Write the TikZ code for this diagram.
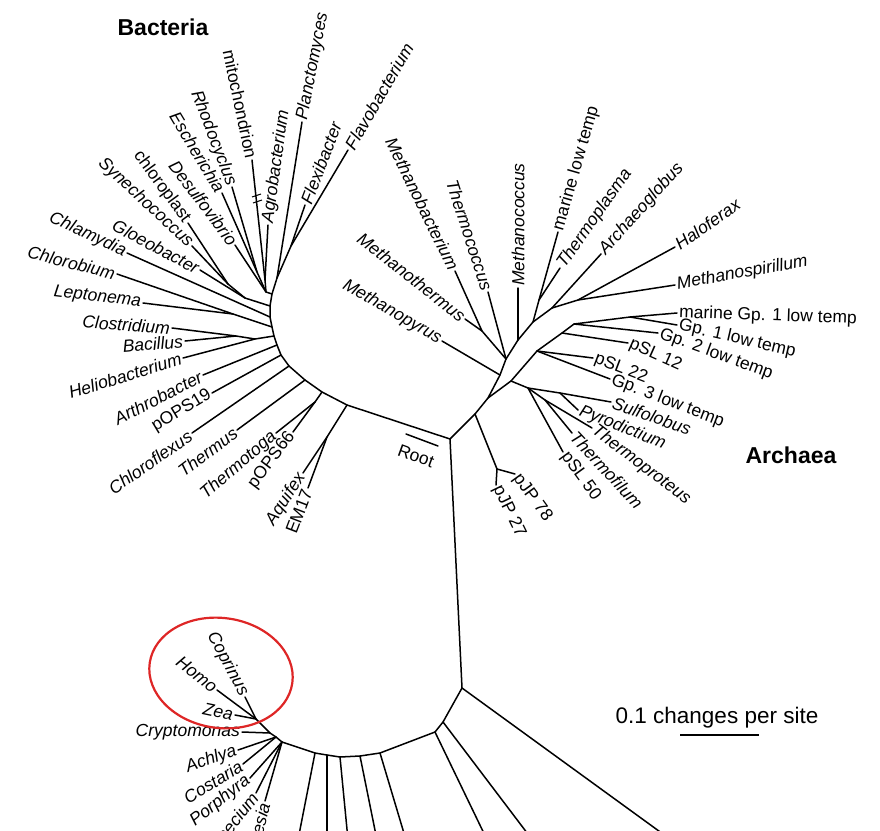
\documentclass[tikz,border=0pt]{standalone}
\usepackage{fontspec}
\setmainfont{Liberation Sans}
\definecolor{circred}{RGB}{222,38,38}
\newcommand\lblsz{\fontsize{17.5}{20}\selectfont}
\tikzset{
  br/.style={line width=1.5pt, line cap=round, line join=round, black},
  lbl/.style={inner sep=2pt, font=\lblsz\itshape},
  lblu/.style={inner sep=2pt, font=\lblsz},
  toleft/.style={anchor=east, rotate=#1},
  toright/.style={anchor=west, rotate=#1},
  bigtitle/.style={font=\fontsize{23}{26}\selectfont\bfseries, inner sep=0pt},
}
\begin{document}
\begin{tikzpicture}[x=1pt,y=-1pt]
\useasboundingbox (0,0) rectangle (880,830);
\clip (0,0) rectangle (880,830);
% ---------- main junction and root ----------
\coordinate (R) at (450,439);
\coordinate (rb1) at (406,434);
\coordinate (rb2) at (438,446);
% ---------- Bacteria backbone ----------
\coordinate (b0) at (347,405);
\coordinate (b1) at (322,392);
\coordinate (b2) at (305,380);
\coordinate (b3) at (289,366);
\coordinate (b4) at (281,355);
\coordinate (b5) at (277,345);
\coordinate (b6) at (274,336);
\coordinate (b7) at (272,327);
\coordinate (b8) at (270,317);
\coordinate (b9) at (270,306);
\coordinate (b10) at (272,294);
\coordinate (b11) at (277,278);
% bacterial nodes and leaves
\coordinate (aq) at (327,437);
\coordinate (lAquifex) at (303,473);
\coordinate (lEM) at (308,488);
\coordinate (tp) at (315,402);
\coordinate (lThermotoga) at (276,433);
\coordinate (lpOPS66) at (293,432);
\coordinate (lThermus) at (237,430);
\coordinate (lChloroflexus) at (192,433);
\coordinate (lpOPS19) at (212,393);
\coordinate (lArthrobacter) at (203,375);
\coordinate (hb) at (255,339);
\coordinate (lHelio) at (183,358);
\coordinate (bc) at (236,336);
\coordinate (lBacillus) at (185,341);
\coordinate (lClostridium) at (172,328);
\coordinate (lc) at (233,314);
\coordinate (lChlorobium) at (117,274);
\coordinate (lLeptonema) at (143,303);
\coordinate (lChlamydia) at (127,253);
\coordinate (cy) at (245,298);
\coordinate (cy2) at (228,284);
\coordinate (lChloroplast) at (188,223);
\coordinate (lSynecho) at (192,246);
\coordinate (lGloeo) at (200,270);
\coordinate (pr) at (266,292);
\coordinate (pr1) at (257,272);
\coordinate (pr2) at (265,280);
\coordinate (lEscherichia) at (222,193);
\coordinate (lRhodocyclus) at (232,187);
\coordinate (lMito) at (252,160);
\coordinate (lAgro) at (268,225);
\coordinate (lDesulfo) at (235,245);
\coordinate (lPlancto) at (302,122);
\coordinate (ff) at (291,246);
\coordinate (lFlavo) at (348,150);
\coordinate (lFlexi) at (305,205);
% ---------- Archaea ----------
\coordinate (a1) at (475,414);
\coordinate (a2) at (488,398);
\coordinate (e1) at (500,375);
\coordinate (e2) at (506,359);
\coordinate (e3) at (518,340);
\coordinate (e4) at (533,322);
\coordinate (e5) at (552,308);
\coordinate (e6) at (578,300);
\coordinate (lMethanopyrus) at (442,341);
\coordinate (mb) at (482,331);
\coordinate (lMethanobacterium) at (455,271);
\coordinate (lMethanothermus) at (465,319);
\coordinate (lThermococcus) at (488,292);
\coordinate (lMethanococcus) at (518,288);
\coordinate (ml) at (539,300);
\coordinate (lMarine) at (558,232);
\coordinate (lThermoplasma) at (560,268);
\coordinate (lArchaeoglobus) at (601,254);
\coordinate (lHaloferax) at (675,247);
\coordinate (lMethanospirillum) at (675,285);
\coordinate (c1) at (511,381);
\coordinate (c2) at (537,351);
\coordinate (c3) at (562,333);
\coordinate (c4) at (574,324);
\coordinate (g1) at (630,317);
\coordinate (lMarineGp1) at (677,313);
\coordinate (lGp1) at (677,325);
\coordinate (lGp2) at (658,333);
\coordinate (lpSL12) at (628,343);
\coordinate (lpSL22) at (593,358);
\coordinate (lGp3) at (610,379);
\coordinate (s) at (528,388);
\coordinate (sp) at (560,393);
\coordinate (lSulfolobus) at (611,402);
\coordinate (lPyrodictium) at (578,410);
\coordinate (tt) at (545,400);
\coordinate (lThermoproteus) at (592,428);
\coordinate (lThermofilum) at (572,433);
\coordinate (lpSL50) at (563,452);
\coordinate (pj) at (497,469);
\coordinate (lpJP78) at (515,474);
\coordinate (lpJP27) at (496,485);
% ---------- Eukarya ----------
\coordinate (e0) at (462,688);
\coordinate (k1) at (443,722);
\coordinate (k2) at (435,732);
\coordinate (k3) at (380,753);
\coordinate (k4) at (360,756);
\coordinate (k5) at (340,757);
\coordinate (k6) at (327,755);
\coordinate (k7) at (315,753);
\coordinate (k8) at (282,742);
\coordinate (ea) at (276,737);
\coordinate (k9) at (270,733);
\coordinate (k10) at (256,719);
\coordinate (d1) at (540,850);
\coordinate (d2) at (492,850);
\coordinate (d3) at (409,850);
\coordinate (d4) at (379,850);
\coordinate (d5) at (349,850);
\coordinate (d6) at (327,850);
\coordinate (d7) at (296,850);
\coordinate (dl) at (685,850);
\coordinate (lHomo) at (217,690);
\coordinate (lCoprinus) at (245,697);
\coordinate (lZea) at (235,715);
\coordinate (lCrypto) at (242,732);
\coordinate (lAchlya) at (238,750);
\coordinate (lCostaria) at (243,764);
\coordinate (lPorphyra) at (250,778);
\coordinate (lParamecium) at (256,793);
\coordinate (lBabesia) at (265,801);

% ---------- branches: Bacteria ----------
\draw[br] (R) -- (b0) -- (b1) -- (b2) -- (b3) -- (b4) -- (b5) -- (b6) -- (b7) -- (b8) -- (b9) -- (b10) -- (b11);
\draw[br] (b0) -- (aq) -- (lAquifex);
\draw[br] (aq) -- (lEM);
\draw[br] (b1) -- (tp) -- (lThermotoga);
\draw[br] (tp) -- (lpOPS66);
\draw[br] (b2) -- (lThermus);
\draw[br] (b3) -- (lChloroflexus);
\draw[br] (b4) -- (lpOPS19);
\draw[br] (b5) -- (lArthrobacter);
\draw[br] (b6) -- (hb) -- (lHelio);
\draw[br] (hb) -- (bc) -- (lBacillus);
\draw[br] (bc) -- (lClostridium);
\draw[br] (b7) -- (lc) -- (lChlorobium);
\draw[br] (lc) -- (lLeptonema);
\draw[br] (b8) -- (lChlamydia);
\draw[br] (b9) -- (cy) -- (cy2) -- (lChloroplast);
\draw[br] (cy2) -- (lSynecho);
\draw[br] (cy) -- (lGloeo);
\draw[br] (b10) -- (pr) -- (pr1) -- (lEscherichia);
\draw[br] (pr1) -- (lRhodocyclus);
\draw[br] (pr) -- (pr2) -- (lMito);
\draw[br] (pr2) -- (lAgro);
\draw[br] (pr) -- (lDesulfo);
\draw[br] (b11) -- (lPlancto);
\draw[br] (b11) -- (ff) -- (lFlavo);
\draw[br] (ff) -- (lFlexi);
% break mark on mitochondrion
\draw[line width=1pt] (252,197) -- (261,194);
\draw[line width=1pt] (253,203) -- (262,200);
% ---------- branches: Archaea ----------
\draw[br] (R) -- (a1) -- (a2) -- (e1) -- (e2) -- (e3) -- (e4) -- (e5) -- (e6) -- (lMethanospirillum);
\draw[br] (e6) -- (lHaloferax);
\draw[br] (e5) -- (lArchaeoglobus);
\draw[br] (e4) -- (ml) -- (lMarine);
\draw[br] (ml) -- (lThermoplasma);
\draw[br] (e3) -- (lMethanococcus);
\draw[br] (e2) -- (lThermococcus);
\draw[br] (e2) -- (mb) -- (lMethanobacterium);
\draw[br] (mb) -- (lMethanothermus);
\draw[br] (e1) -- (lMethanopyrus);
\draw[br] (a2) -- (c1) -- (c2) -- (c3) -- (c4) -- (g1) -- (lMarineGp1);
\draw[br] (g1) -- (lGp1);
\draw[br] (c4) -- (lGp2);
\draw[br] (c3) -- (lpSL12);
\draw[br] (c2) -- (lpSL22);
\draw[br] (c2) -- (lGp3);
\draw[br] (c1) -- (s) -- (sp) -- (lSulfolobus);
\draw[br] (sp) -- (lPyrodictium);
\draw[br] (s) -- (tt) -- (lThermoproteus);
\draw[br] (tt) -- (lThermofilum);
\draw[br] (s) -- (lpSL50);
\draw[br] (a1) -- (pj) -- (lpJP78);
\draw[br] (pj) -- (lpJP27);
% ---------- branches: Eukarya ----------
\draw[br] (R) -- (e0) -- (dl);
\draw[br] (e0) -- (k1) -- (k2) -- (k3) -- (k4) -- (k5) -- (k6) -- (k7) -- (k8) -- (ea) -- (k9) -- (k10) -- (lHomo);
\draw[br] (k10) -- (lCoprinus);
\draw[br] (k10) -- (lZea);
\draw[br] (k9) -- (lCrypto);
\draw[br] (ea) -- (lAchlya);
\draw[br] (ea) -- (lCostaria);
\draw[br] (k8) -- (lPorphyra);
\draw[br] (k8) -- (lParamecium);
\draw[br] (k8) -- (lBabesia);
\draw[br] (k1) -- (d1);
\draw[br] (k2) -- (d2);
\draw[br] (k3) -- (d3);
\draw[br] (k4) -- (d4);
\draw[br] (k5) -- (d5);
\draw[br] (k6) -- (d6);
\draw[br] (k7) -- (d7);
% root bar
\draw[br] (rb1) -- (rb2);
\node[lblu, rotate=-20] (tRoot) at (416,456) {Root};

% ---------- labels: Bacteria ----------
\node[lbl, toleft=-25] (tChlamydia) at (lChlamydia) {Chlamydia};
\node[lbl, toleft=-14] (tChlorobium) at (lChlorobium) {Chlorobium};
\node[lbl, toleft=-7] (tLeptonema) at (lLeptonema) {Leptonema};
\node[lbl, toleft=-4] (tClostridium) at (lClostridium) {Clostridium};
\node[lbl, toleft=5] (tBacillus) at (lBacillus) {Bacillus};
\node[lbl, toleft=17] (tHelio) at (lHelio) {Heliobacterium};
\node[lbl, toleft=27] (tArthro) at (lArthrobacter) {Arthrobacter};
\node[lblu, toleft=31] (tpOPS19) at (lpOPS19) {pOPS19};
\node[lbl, toleft=35] (tChloroflexus) at (lChloroflexus) {Chloroflexus};
\node[lbl, toleft=37] (tThermus) at (lThermus) {Thermus};
\node[lbl, toleft=41] (tThermotoga) at (lThermotoga) {Thermotoga};
\node[lblu, toleft=53] (tpOPS66) at (lpOPS66) {pOPS66};
\node[lbl, toleft=57] (tAquifex) at (lAquifex) {Aquifex};
\node[lblu, toleft=69] (tEM) at (lEM) {EM17};
\node[lbl, toleft=-28] (tGloeo) at (lGloeo) {Gloeobacter};
\node[lbl, toleft=-43] (tSynecho) at (lSynecho) {Synechococcus};
\node[lblu, toleft=-54] (tChloroplast) at (lChloroplast) {chloroplast};
\node[lbl, toleft=-53] (tDesulfo) at (lDesulfo) {Desulfovibrio};
\node[lbl, toleft=-59] (tEscherichia) at (lEscherichia) {Escherichia};
\node[lbl, toleft=-69] (tRhodocyclus) at (lRhodocyclus) {Rhodocyclus};
\node[lblu, toleft=-78] (tMito) at (lMito) {mitochondrion};
\node[lbl, toright=82] (tAgro) at (lAgro) {Agrobacterium};
\node[lbl, toright=79] (tPlancto) at (lPlancto) {Planctomyces};
\node[lbl, toright=69] (tFlexi) at (lFlexi) {Flexibacter};
\node[lbl, toright=60] (tFlavo) at (lFlavo) {Flavobacterium};
% ---------- labels: Archaea ----------
\node[lbl, toleft=-30] (tMethanopyrus) at (lMethanopyrus) {Methanopyrus};
\node[lbl, toleft=-38] (tMethanothermus) at (lMethanothermus) {Methanothermus};
\node[lbl, toleft=-64] (tMethanobacterium) at (lMethanobacterium) {Methanobacterium};
\node[lbl, toleft=-72] (tThermococcus) at (lThermococcus) {Thermococcus};
\node[lbl, toright=90] (tMethanococcus) at (lMethanococcus) {Methanococcus};
\node[lblu, toright=74] (tMarine) at (lMarine) {marine low temp};
\node[lbl, toright=55] (tThermoplasma) at (lThermoplasma) {Thermoplasma};
\node[lbl, toright=48] (tArchaeoglobus) at (lArchaeoglobus) {Archaeoglobus};
\node[lbl, toright=35] (tHaloferax) at (lHaloferax) {Haloferax};
\node[lbl, toright=10] (tMethanospirillum) at (lMethanospirillum) {Methanospirillum};
\node[lblu, toright=-2] (tMarineGp1) at (lMarineGp1) {marine Gp. 1 low temp};
\node[lblu, toright=-13] (tGp1) at (lGp1) {Gp. 1 low temp};
\node[lblu, toright=-20] (tGp2) at (lGp2) {Gp. 2 low temp};
\node[lblu, toright=-24] (tpSL12) at (lpSL12) {pSL 12};
\node[lblu, toright=-21] (tpSL22) at (lpSL22) {pSL 22};
\node[lblu, toright=-21] (tGp3) at (lGp3) {Gp. 3 low temp};
\node[lbl, toright=-19] (tSulfolobus) at (lSulfolobus) {Sulfolobus};
\node[lbl, toright=-22] (tPyrodictium) at (lPyrodictium) {Pyrodictium};
\node[lbl, toright=-37] (tThermoproteus) at (lThermoproteus) {Thermoproteus};
\node[lbl, toright=-47] (tThermofilum) at (lThermofilum) {Thermofilum};
\node[lblu, toright=-54] (tpSL50) at (lpSL50) {pSL 50};
\node[lblu, toright=-54] (tpJP78) at (lpJP78) {pJP 78};
\node[lblu, toright=-64] (tpJP27) at (lpJP27) {pJP 27};
% ---------- labels: Eukarya ----------
\node[lbl, toleft=-62] (tCoprinus) at (lCoprinus) {Coprinus};
\node[lbl, toleft=-38] (tHomo) at (lHomo) {Homo};
\node[lbl, toleft=-12] (tZea) at (lZea) {Zea};
\node[lbl, toleft=0] (tCrypto) at (lCrypto) {Cryptomonas};
\node[lbl, toleft=20] (tAchlya) at (lAchlya) {Achlya};
\node[lbl, toleft=31] (tCostaria) at (lCostaria) {Costaria};
\node[lbl, toleft=38] (tPorphyra) at (lPorphyra) {Porphyra};
\node[lbl, toleft=52] (tParamecium) at (lParamecium) {Paramecium};
\node[lbl, toleft=76] (tBabesia) at (lBabesia) {Babesia};
% highlight ellipse
\draw[circred, line width=2.2pt, rotate around={-8:(221,673)}] (221,673) ellipse [x radius=72pt, y radius=55pt];
% ---------- titles and scale ----------
\node[bigtitle] (tBacteria) at (163,27) {Bacteria};
\node[bigtitle] (tArchaea) at (791,455) {Archaea};
\node[font=\fontsize{22.5}{25}\selectfont, inner sep=0pt] (tScale) at (717,718) {0.1 changes per site};
\coordinate (sb1) at (680,735);
\coordinate (sb2) at (759,735);
\draw[line width=1.6pt] (sb1) -- (sb2);
\end{tikzpicture}
\end{document}
